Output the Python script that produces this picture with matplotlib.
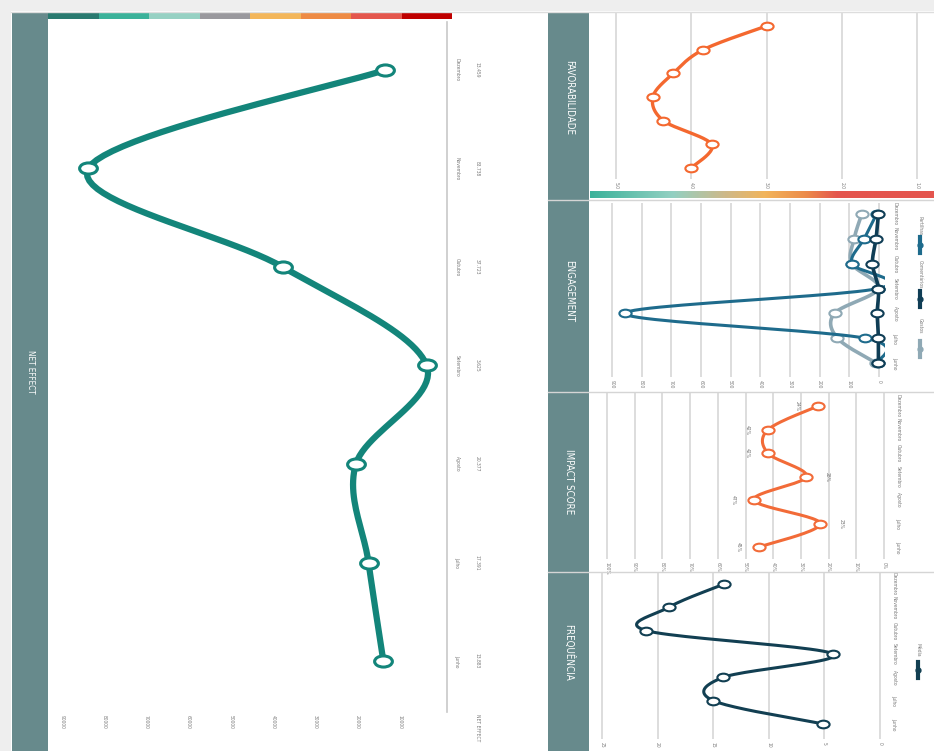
import matplotlib
matplotlib.use("Agg")
import matplotlib.pyplot as plt
import numpy as np
from matplotlib.patches import Rectangle
from matplotlib.markers import MarkerStyle
from matplotlib.transforms import Affine2D
from matplotlib.colors import LinearSegmentedColormap
from matplotlib.lines import Line2D

W, H = 934, 751

# dados
months = ["Junho", "Julho", "Agosto", "Setembro", "Outubro", "Novembro", "Dezembro"]
net_effect = [13883, 17391, 20377, 3625, 37723, 83738, 13459]
net_ticks = [10000, 20000, 30000, 40000, 50000, 60000, 70000, 80000, 90000]

favorabilidade = [4.0, 3.73, 4.37, 4.51, 4.24, 3.84, 3.0]
fav_ticks = [5.0, 4.0, 3.0, 2.0, 1.0]

gostos = [10, 140, 150, 2, 92, 84, 58]
comentarios = [2, 2, 6, 2, 22, 10, 2]
partilhas = [4, 48, 857, 3, 92, 50, 8]
eng_ticks = [0, 100, 200, 300, 400, 500, 600, 700, 800, 900]

impact = [0.45, 0.23, 0.47, 0.28, 0.42, 0.418, 0.238]
impact_ticks = [0.0, 0.1, 0.2, 0.3, 0.4, 0.5, 0.6, 0.7, 0.8, 0.9, 1.0]

frequencia = [5.1, 15.0, 14.1, 4.2, 21.0, 19.0, 14.0]
freq_ticks = [0, 5, 10, 15, 20, 25]

stripe_colors = ["#2A7A70", "#3BB29A", "#96D1C3", "#9A999E",
                 "#F3B65A", "#EE8B45", "#E4574E", "#BF0000"]

BAR = "#678A8C"
GRID = "#DADADA"
TXT = "#7A7A7A"
SMALL = 3.6

plt.rcParams["font.family"] = ["Liberation Sans Narrow", "DejaVu Sans"]
plt.rcParams["font.stretch"] = "condensed"

fig = plt.figure(figsize=(W / 100, H / 100), dpi=100)
fig.patch.set_facecolor("white")


def rect_px(x0, y0, x1, y1):
    return [x0 / W, 1 - y1 / H, (x1 - x0) / W, (y1 - y0) / H]


def add_box(x0, y0, x1, y1, color, z=0):
    fig.add_artist(Rectangle((x0 / W, 1 - y1 / H), (x1 - x0) / W, (y1 - y0) / H,
                             transform=fig.transFigure, facecolor=color,
                             edgecolor="none", zorder=z))


def add_hline(x0, x1, y, color, lw=1.0):
    fig.add_artist(Line2D([x0 / W, x1 / W], [1 - y / H, 1 - y / H],
                          transform=fig.transFigure, color=color, lw=lw, zorder=3))


def fig_text(x, y, s, **kw):
    fig.text(x / W, 1 - y / H, s, rotation=-90, ha="center", va="center", **kw)


def lims(a, b, p0, v0, p1, v1):
    # valores nos pixels a e b, sabendo que v0 fica em p0 e v1 em p1
    k = (v1 - v0) / (p1 - p0)
    return v0 + (a - p0) * k, v0 + (b - p0) * k


def smooth(xs, ys, n=24):
    # catmull-rom, parecido com a linha suavizada do excel
    pts = np.column_stack([xs, ys]).astype(float)
    p = np.vstack([pts[0], pts, pts[-1]])
    t = np.linspace(0, 1, n, endpoint=False)[:, None]
    out = []
    for i in range(1, len(p) - 2):
        p0, p1, p2, p3 = p[i - 1], p[i], p[i + 1], p[i + 2]
        seg = 0.5 * (2 * p1 + (-p0 + p2) * t
                     + (2 * p0 - 5 * p1 + 4 * p2 - p3) * t ** 2
                     + (-p0 + 3 * p1 - 3 * p2 + p3) * t ** 3)
        out.append(seg)
    out.append(pts[-1:])
    out = np.vstack(out)
    return out[:, 0], out[:, 1]


def ellipse_marker(sx=1.6):
    return MarkerStyle("o", transform=Affine2D().scale(sx, 1.0))


def make_panel(box, vpx, vvals, mpx, ticks, labels, fs=SMALL, grid=True):
    x0, y0, x1, y1 = box
    ax = fig.add_axes(rect_px(x0, y0, x1, y1))
    ax.set_xlim(*lims(x0, x1, vpx[0], vvals[0], vpx[1], vvals[1]))
    ax.set_ylim(*lims(y1, y0, mpx[0], 0, mpx[1], len(months) - 1))
    ax.set_xticks(ticks)
    ax.set_xticklabels(labels, rotation=-90, fontsize=fs, color=TXT)
    ax.tick_params(axis="x", length=0, pad=2)
    ax.set_yticks([])
    for s in ax.spines.values():
        s.set_visible(False)
    if grid:
        ax.grid(axis="x", color=GRID, lw=1.3)
        ax.set_axisbelow(True)
    ax.patch.set_alpha(0)
    return ax


def draw_line(ax, vals, color, lw, ms, mew, sx=1.6, z=3):
    idx = np.arange(len(vals))
    sx_, sy_ = smooth(vals, idx)
    ax.plot(sx_, sy_, color=color, lw=lw, solid_capstyle="round", zorder=z)
    ax.plot(vals, idx, ls="none", marker=ellipse_marker(sx), ms=ms, mfc="white",
            mec=color, mew=mew, zorder=z + 1)


def month_labels(ax, dx_px, fs=SMALL):
    for i, m in enumerate(months):
        ax.annotate(m, (1, i), xycoords=("axes fraction", "data"),
                    xytext=(dx_px * 0.72, 0), textcoords="offset points",
                    rotation=-90, ha="center", va="center", fontsize=fs, color=TXT)


def legend_item(x, y_line, y_text, label, color):
    fig.add_artist(Line2D([x / W, x / W], [1 - (y_line - 8) / H, 1 - (y_line + 8) / H],
                          transform=fig.transFigure, color=color, lw=3, zorder=4))
    fig.add_artist(Line2D([x / W], [1 - y_line / H], transform=fig.transFigure,
                          marker="o", ms=3.5, color=color, zorder=5))
    fig_text(x, y_text, label, fontsize=SMALL, color=TXT)


# fundo e molduras
add_box(0, 0, W, 11, "#EEEEEE")
add_box(0, 0, 11, H, "#EEEEEE")
add_hline(11, W, 12, "#DDDDDD")

# painel net effect
add_box(12, 12, 48, H, BAR, z=1)
for i, c in enumerate(stripe_colors):
    add_box(48 + i * 50.5, 12, 48 + (i + 1) * 50.5, 19, c, z=1)
fig_text(30, 372, "NET EFFECT", fontsize=5.8, color="white", zorder=5)

ax = make_panel((25, 22, 447, 712), (442, 104), (0, 80000), (661, 70),
                net_ticks, [str(v) for v in net_ticks], grid=False)
ax.spines["right"].set_visible(True)
ax.spines["right"].set_color("#C8C8C8")
ax.spines["right"].set_linewidth(1.2)
draw_line(ax, net_effect, "#13857A", 4.5, 8, 2.2)
month_labels(ax, 10)
for i, v in enumerate(net_effect):
    ax.annotate(f"{v:,}".replace(",", "."), (1, i), xycoords=("axes fraction", "data"),
                xytext=(30 * 0.72, 0), textcoords="offset points",
                rotation=-90, ha="center", va="center", fontsize=SMALL, color=TXT)
fig_text(477, 728, "NET EFFECT", fontsize=SMALL, color=TXT)

# barras de titulo dos paineis da direita
add_box(548, 12, 589, H, BAR, z=1)
for y in (200, 392, 572):
    add_hline(548, W, y, "#D5D5D5")
fig_text(569, 98, "FAVORABILIDADE", fontsize=7, color="white", zorder=5)
fig_text(569, 291, "ENGAGEMENT", fontsize=7, color="white", zorder=5)
fig_text(569, 482, "IMPACT SCORE", fontsize=7, color="white", zorder=5)
fig_text(569, 652, "FREQUÊNCIA", fontsize=7, color="white", zorder=5)

# favorabilidade
ax = make_panel((595, 13, W, 179), (616, 917), (5.0, 1.0), (168, 26),
                fav_ticks, [f"{v:.1f}" for v in fav_ticks])
draw_line(ax, favorabilidade, "#F4682F", 2.4, 5.5, 1.5)
cmap = LinearSegmentedColormap.from_list(
    "fav", [(0.0, "#3BB29A"), (0.24, "#93D0C2"), (0.39, "#CDB98A"),
            (0.51, "#F2B45A"), (0.63, "#EC8A4A"), (0.72, "#E4554E"), (1.0, "#E4554E")])
cax = fig.add_axes(rect_px(590, 191, W, 198))
cax.imshow(np.linspace(0, 1, 256)[None, :], aspect="auto", cmap=cmap)
cax.set_axis_off()

# engagement
ax = make_panel((600, 203, 885, 377), (612, 879), (900, 0), (363, 214),
                eng_ticks, [str(v) for v in eng_ticks])
draw_line(ax, gostos, "#8FA9B5", 2.6, 5.5, 1.5, z=3)
draw_line(ax, partilhas, "#1E6B8C", 2.2, 5.5, 1.5, z=5)
draw_line(ax, comentarios, "#0F3D55", 2.6, 5.5, 1.5, z=7)
month_labels(ax, 10)
legend_item(920, 349, 326, "Gostos", "#8FA9B5")
legend_item(920, 299, 274, "Comentários", "#0F3D55")
legend_item(920, 245, 226, "Partilhas", "#1E6B8C")

# impact score
ax = make_panel((600, 393, 890, 559), (884, 607), (0.0, 1.0), (547, 406),
                impact_ticks, [f"{v:.0%}" for v in impact_ticks])
draw_line(ax, impact, "#F26B38", 2.2, 5.5, 1.5)
month_labels(ax, 8)
label_side = [-1, 1, -1, 1, -1, -1, -1]
for i, v in enumerate(impact):
    ax.annotate(f"{v:.0%}", (v, i), xytext=(label_side[i] * 15, 0),
                textcoords="offset points", rotation=-90, ha="center", va="center",
                fontsize=SMALL, color="#6F6F6F")

# frequencia
ax = make_panel((598, 573, 884, 739), (880, 602), (0, 25), (724, 584),
                freq_ticks, [str(v) for v in freq_ticks])
draw_line(ax, frequencia, "#123F52", 2.2, 5.5, 1.5)
month_labels(ax, 10)
legend_item(918, 670, 650, "Média", "#123F52")

fig.savefig("out.png", dpi=100)
